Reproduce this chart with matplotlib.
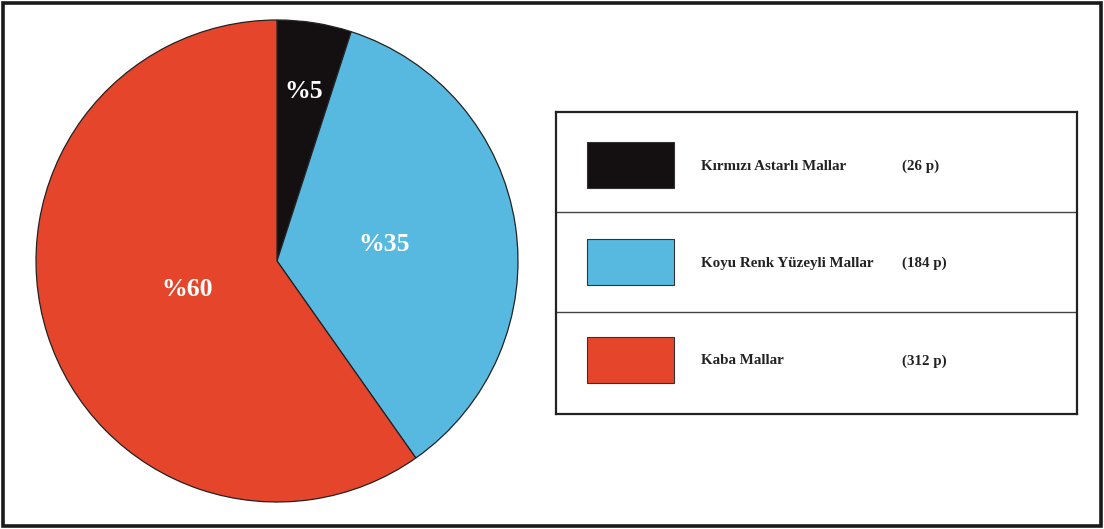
import numpy as np
import matplotlib.pyplot as plt
from matplotlib.patches import Rectangle

# data
labels = ["Kırmızı Astarlı Mallar", "Koyu Renk Yüzeyli Mallar", "Kaba Mallar"]
counts = [26, 184, 312]
colors = ["#141011", "#57b9e0", "#e5462b"]
label_radius = [0.71, 0.45, 0.39]

plt.rcParams['font.family'] = ['Liberation Serif', 'DejaVu Serif']
W, H = 1104, 529
fig = plt.figure(figsize=(W / 100, H / 100), dpi=100)

# outer frame
fig.patches.append(Rectangle((3 / W, 3 / H), 1 - 6 / W, 1 - 6 / H, transform=fig.transFigure,
                             fill=False, edgecolor="#1a1a1a", linewidth=2.6))

# pie, centre (277, 261) radius 241 px
cx, cy, r = 277, 261, 241
ax = fig.add_axes([(cx - r) / W, (H - cy - r) / H, 2 * r / W, 2 * r / H])
wedges, _ = ax.pie(counts, colors=colors, startangle=90, counterclock=False,
                   wedgeprops=dict(edgecolor="#222222", linewidth=0.9))
total = sum(counts)
for w, c, lr in zip(wedges, counts, label_radius):
    mid = np.deg2rad((w.theta1 + w.theta2) / 2)
    ax.text(lr * np.cos(mid), lr * np.sin(mid), "%%%d" % round(100 * c / total),
            color="white", fontsize=18.5, fontweight="bold", ha="center", va="center")
ax.set_xlim(-1, 1)
ax.set_ylim(-1, 1)
ax.axis("off")

# legend box
bx0, bx1, by0, by1 = 556, 1077, 112, 414
lax = fig.add_axes([bx0 / W, (H - by1) / H, (bx1 - bx0) / W, (by1 - by0) / H])
lax.set_xlim(bx0, bx1)
lax.set_ylim(by1, by0)
lax.set_xticks([])
lax.set_yticks([])
for s in lax.spines.values():
    s.set_linewidth(1.6)
    s.set_color("#222222")
row_y = [165, 262, 360]
for i, (lab, c, col) in enumerate(zip(labels, counts, colors)):
    yc = row_y[i]
    lax.add_patch(Rectangle((587, yc - 23), 87, 46, facecolor=col, edgecolor="#333333", linewidth=0.8))
    lax.text(701, yc + 1, lab, fontsize=10.8, fontweight="bold", ha="left", va="center", color="#222222")
    lax.text(902, yc + 1, "(%d p)" % c, fontsize=10.8, fontweight="bold", ha="left", va="center", color="#222222")
for yl in [212, 312]:
    lax.plot([bx0, bx1], [yl, yl], color="#444444", linewidth=1)

fig.savefig("out.png", dpi=100)
